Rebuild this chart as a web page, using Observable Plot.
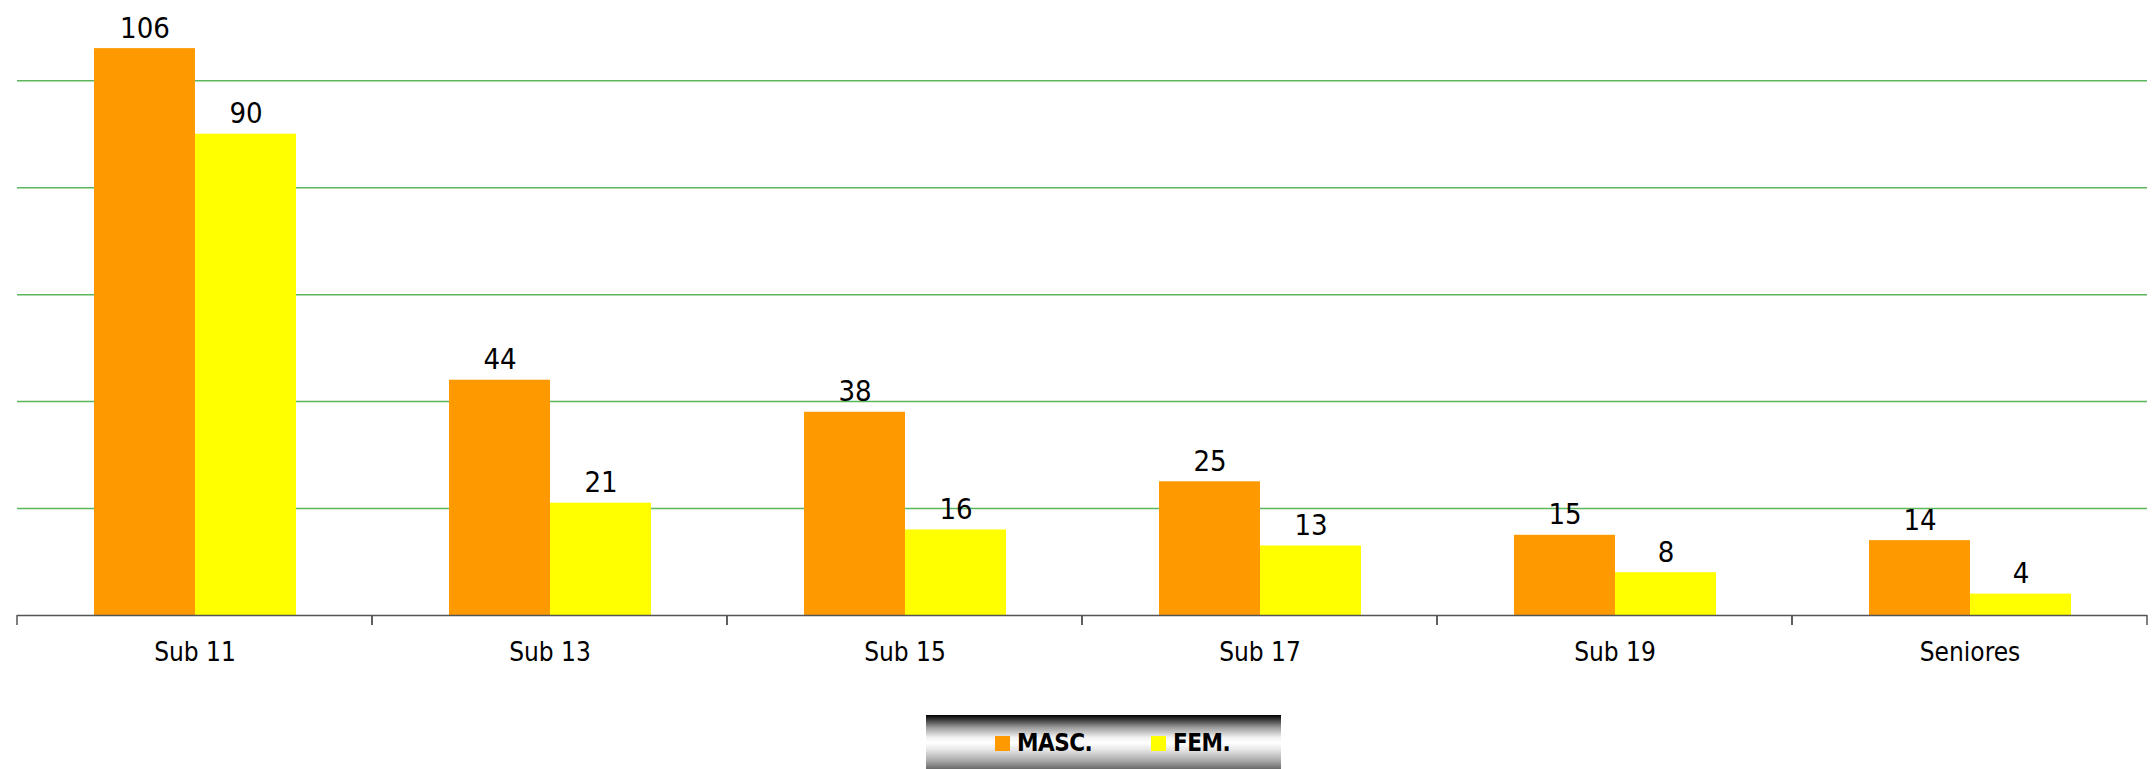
<!DOCTYPE html>
<html><head><meta charset="utf-8">
<script src="https://cdn.jsdelivr.net/npm/d3@7"></script>
<script src="https://cdn.jsdelivr.net/npm/@observablehq/plot@0.6"></script>
<style>
body{margin:0;background:#fff;font-family:"DejaVu Sans Condensed",sans-serif;}
#wrap{position:relative;width:2153px;height:769px;overflow:hidden}
#chart svg{display:block}
#legend{position:absolute;left:926px;top:715px;width:355px;height:56px;
background:linear-gradient(to bottom,#000 0%,#2a2a2a 6%,#9a9a9a 22%,#f2f2f2 40%,#fff 50%,#e6e6e6 62%,#a8a8a8 82%,#5a5a5a 100%);}
.sw{position:absolute;top:21px;width:15px;height:15px}
.lb{position:absolute;top:13px;font-size:24px;font-weight:bold;color:#000;line-height:30px;letter-spacing:-0.5px}
</style>
</head><body>
<div id="wrap"><div id="chart"></div>
<div id="legend">
<div class="sw" style="left:69px;background:#FF9900"></div><div class="lb" style="left:91px">MASC.</div>
<div class="sw" style="left:225px;background:#FFFF00"></div><div class="lb" style="left:247px">FEM.</div>
</div></div>
<script>
const categories = ["Sub 11","Sub 13","Sub 15","Sub 17","Sub 19","Seniores"];
const series = ["MASC.","FEM."];
const masc = [106,44,38,25,15,14];
const fem = [90,21,16,13,8,4];
const gridValues = [20,40,60,80,100];
const colors = ["#FF9900","#FFFF00"];

const data = [];
categories.forEach((c,i)=>{
  data.push({cat:c, s:series[0], v:masc[i]});
  data.push({cat:c, s:series[1], v:fem[i]});
});

function boundaryTicks(index, scales, values, dimensions) {
  const r = scales.x && scales.x.range ? scales.x.range() : [dimensions.marginLeft, dimensions.width - dimensions.marginRight];
  const y0 = scales.y(0);
  const g = d3.create("svg:g");
  for (const x of r) g.append("line").attr("x1",x).attr("x2",x).attr("y1",y0).attr("y2",y0+10).attr("stroke","#555").attr("stroke-width",1.5);
  return g.node();
}

const font = '"DejaVu Sans Condensed",sans-serif';
const plot = Plot.plot({
  width: 2153, height: 700,
  marginLeft: 14, marginRight: 4, marginTop: 0, marginBottom: 85,
  style: {fontFamily: font, fontSize: "26px", color: "#000", background: "#fff"},
  fx: {domain: categories, paddingInner: 0, paddingOuter: 0, label: null, axis: "bottom", tickSize: 0, tickPadding: 27},
  x: {domain: series, paddingInner: 0, paddingOuter: 0.754, axis: null},
  y: {domain: [0,115], axis: null},
  color: {domain: series, range: colors},
  marks: [
    Plot.ruleY(gridValues, {stroke: "#3FAA3F", strokeWidth: 1.5, strokeOpacity: 0.85}),
    Plot.barY(data, {fx: "cat", x: "s", y: "v", fill: "s"}),
    Plot.text(data, {fx: "cat", x: "s", y: "v", text: d => String(d.v), lineAnchor: "bottom", dy: -11, fontSize: 29, fill: "#000"}),
    Plot.ruleY([0], {stroke: "#555", strokeWidth: 1.5}),
    boundaryTicks
  ]
});
document.getElementById("chart").appendChild(plot);
</script>
</body></html>
